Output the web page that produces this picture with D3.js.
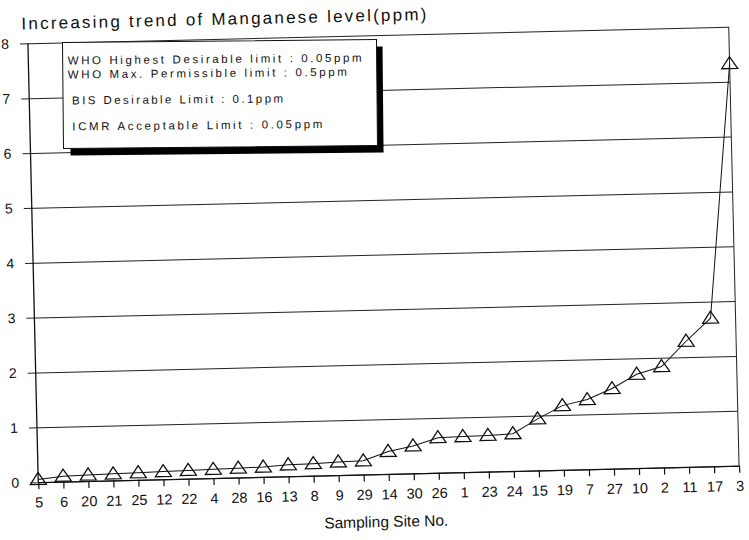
<!DOCTYPE html>
<html>
<head>
<meta charset="utf-8">
<script src="https://cdn.jsdelivr.net/npm/d3@7"></script>
<style>
	body { margin: 0; background: #fff; }
	text { font-family: "Liberation Sans", Arial, sans-serif; fill: #111; }
</style>
</head>
<body>
<svg id="chart" width="749" height="540"></svg>
<script>
// sampling sites, sorted by manganese level
var sites = ['5','6','20','21','25','12','22','4','28','16','13','8','9','29','14',
             '30','26','1','23','24','15','19','7','27','10','2','11','17','3'];
// manganese (ppm)
var manganese = [0.05, 0.10, 0.11, 0.12, 0.13, 0.14, 0.15, 0.16, 0.17, 0.18, 0.21,
                 0.22, 0.24, 0.25, 0.41, 0.50, 0.64, 0.65, 0.66, 0.68, 0.94, 1.17,
                 1.27, 1.46, 1.71, 1.84, 2.29, 2.70, 7.33];
var yTicks = [0, 1, 2, 3, 4, 5, 6, 7, 8];
var legendLines = ['WHO Highest Desirable limit : 0.05ppm',
                   'WHO Max. Permissible limit : 0.5ppm',
                   'BIS Desirable Limit : 0.1ppm',
                   'ICMR Acceptable Limit : 0.05ppm'];

var svg = d3.select('#chart');
var plotLeft = 33, plotRight = 734, plotTop = 35, plotBottom = 474;

// the scan is tilted a little, so the whole plot is turned to match
var g = svg.append('g').attr('transform', 'rotate(-1.35, 384, 255)');

var x = d3.scalePoint().domain(sites).range([plotLeft, plotRight]).padding(0);
var y = d3.scaleLinear().domain([0, 8]).range([plotBottom, plotTop]);

// gridlines + y labels
var yAxis = g.append('g')
	.attr('transform', 'translate(' + plotLeft + ',0)')
	.call(d3.axisLeft(y).tickValues(yTicks).tickSizeInner(-(plotRight - plotLeft)).tickSizeOuter(0).tickPadding(19));
yAxis.select('.domain').remove();
yAxis.selectAll('.tick line').attr('x1', -8).attr('stroke', '#222').attr('stroke-width', 1);
yAxis.selectAll('.tick text').attr('font-size', 14).attr('fill', '#111');

// frame: y axis and right border
g.append('line').attr('x1', plotLeft).attr('x2', plotLeft).attr('y1', y(8)).attr('y2', y(0))
	.attr('stroke', '#111').attr('stroke-width', 1.3);
g.append('line').attr('x1', plotRight).attr('x2', plotRight).attr('y1', y(8)).attr('y2', y(0))
	.attr('stroke', '#222').attr('stroke-width', 1);

// x axis
var xAxis = g.append('g')
	.attr('transform', 'translate(0,' + plotBottom + ')')
	.call(d3.axisBottom(x).tickSizeInner(7).tickSizeOuter(0).tickPadding(8));
xAxis.select('.domain').attr('stroke', '#111').attr('stroke-width', 1.3);
xAxis.selectAll('.tick line').attr('stroke', '#111').attr('stroke-width', 1.2);
xAxis.selectAll('.tick text').attr('font-size', 14.5).attr('fill', '#111');

// series line
var line = d3.line()
	.x(function(d, i) { return x(sites[i]); })
	.y(function(d) { return y(d); });
g.append('path').datum(manganese)
	.attr('d', line)
	.attr('fill', 'none')
	.attr('stroke', '#111')
	.attr('stroke-width', 1);

// open triangle markers
var triangle = {
	draw: function(ctx, size) {
		ctx.moveTo(0, -7);
		ctx.lineTo(8, 5);
		ctx.lineTo(-8, 5);
		ctx.closePath();
	}
};
g.append('g').selectAll('path')
	.data(manganese)
	.enter().append('path')
		.attr('d', d3.symbol().type(triangle))
		.attr('transform', function(d, i) { return 'translate(' + x(sites[i]) + ',' + y(d) + ')'; })
		.attr('fill', 'none')
		.attr('stroke', '#111')
		.attr('stroke-width', 1.3);

// titles
g.append('text')
	.attr('x', 27).attr('y', 21)
	.attr('font-size', 17)
	.attr('textLength', 405).attr('lengthAdjust', 'spacing')
	.text('Increasing trend of Manganese level(ppm)');
g.append('text')
	.attr('x', 380).attr('y', 527)
	.attr('text-anchor', 'middle')
	.attr('font-size', 15.5)
	.text('Sampling Site No.');

// legend box with drop shadow
var lg = svg.append('g').attr('transform', 'rotate(-0.55, 220, 95)');
lg.append('rect').attr('x', 70).attr('y', 48).attr('width', 313).attr('height', 106).attr('fill', '#000');
lg.append('rect').attr('x', 63).attr('y', 41).attr('width', 314).attr('height', 106)
	.attr('fill', '#fff').attr('stroke', '#111').attr('stroke-width', 1);
var lineY = [63, 77, 103, 129];
var lineW = [294, 279, 211, 250];
lg.selectAll('text.leg')
	.data(legendLines)
	.enter().append('text')
		.attr('class', 'leg')
		.attr('x', function(d, i) { return i < 2 ? 68 : 72; })
		.attr('y', function(d, i) { return lineY[i]; })
		.attr('font-size', 11.5)
		.attr('textLength', function(d, i) { return lineW[i]; })
		.attr('lengthAdjust', 'spacing')
		.text(function(d) { return d; });
</script>
</body>
</html>
